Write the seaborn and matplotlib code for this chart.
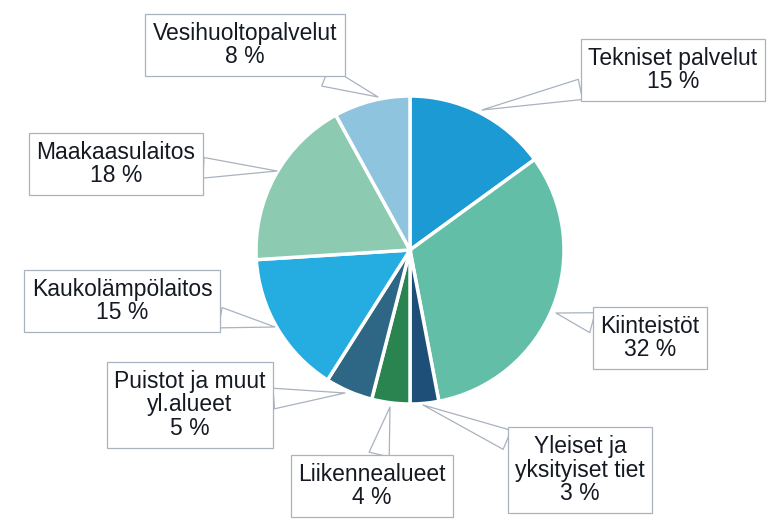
import matplotlib.pyplot as plt
import seaborn as sns

# osuudet myötäpäivään ylhäältä alkaen
labels = ['Tekniset palvelut', 'Kiinteistöt', 'Yleiset ja\nyksityiset tiet', 'Liikennealueet',
          'Puistot ja muut\nyl.alueet', 'Kaukolämpölaitos', 'Maakaasulaitos', 'Vesihuoltopalvelut']
shares = [15, 32, 3, 4, 5, 15, 18, 8]
colors = ['#1c9ad4', '#62bea6', '#1d4f78', '#2a8450', '#2e6785', '#25ace0', '#8ccbb2', '#8ec4de']

# laatikoiden keskipisteet ja osoituspisteet (kuvapikseleinä)
label_xy = [(673, 70), (650, 338), (580, 470), (372, 486), (190, 405), (122, 301), (116, 164), (245, 45)]
point_xy = [(482, 110), (556, 313), (423, 405), (390, 407), (345, 393), (275, 327), (277, 171), (378, 97)]


def main():
    sns.set_style('white')
    plt.rcParams['font.family'] = ['Liberation Sans', 'DejaVu Sans']

    fig = plt.figure(figsize=(7.79, 5.2), dpi=100)
    ax = fig.add_axes([0, 0, 1, 1])

    ax.pie(shares, colors=colors, startangle=90, counterclock=False,
           center=(410, 520 - 250), radius=154, frame=True,
           wedgeprops=dict(edgecolor='white', linewidth=2.5))
    ax.set_xlim(0, 779)
    ax.set_ylim(0, 520)
    ax.set_aspect('equal')
    ax.axis('off')

    for lab, s, (tx, ty), (px, py) in zip(labels, shares, label_xy, point_xy):
        ax.annotate(f'{lab}\n{s} %', xy=(px, 520 - py), xytext=(tx, 520 - ty),
                    ha='center', va='center', fontsize=16.5, color='#151a22',
                    linespacing=1.05,
                    bbox=dict(boxstyle='square,pad=0.33', fc='white', ec='#a9b2bf', lw=0.9),
                    arrowprops=dict(arrowstyle='wedge,tail_width=0.9,shrink_factor=0.5',
                                    fc='white', ec='#a9b2bf', lw=0.9, shrinkA=0, shrinkB=0))

    fig.savefig('out.png', dpi=100, facecolor='white')


if __name__ == '__main__':
    main()
